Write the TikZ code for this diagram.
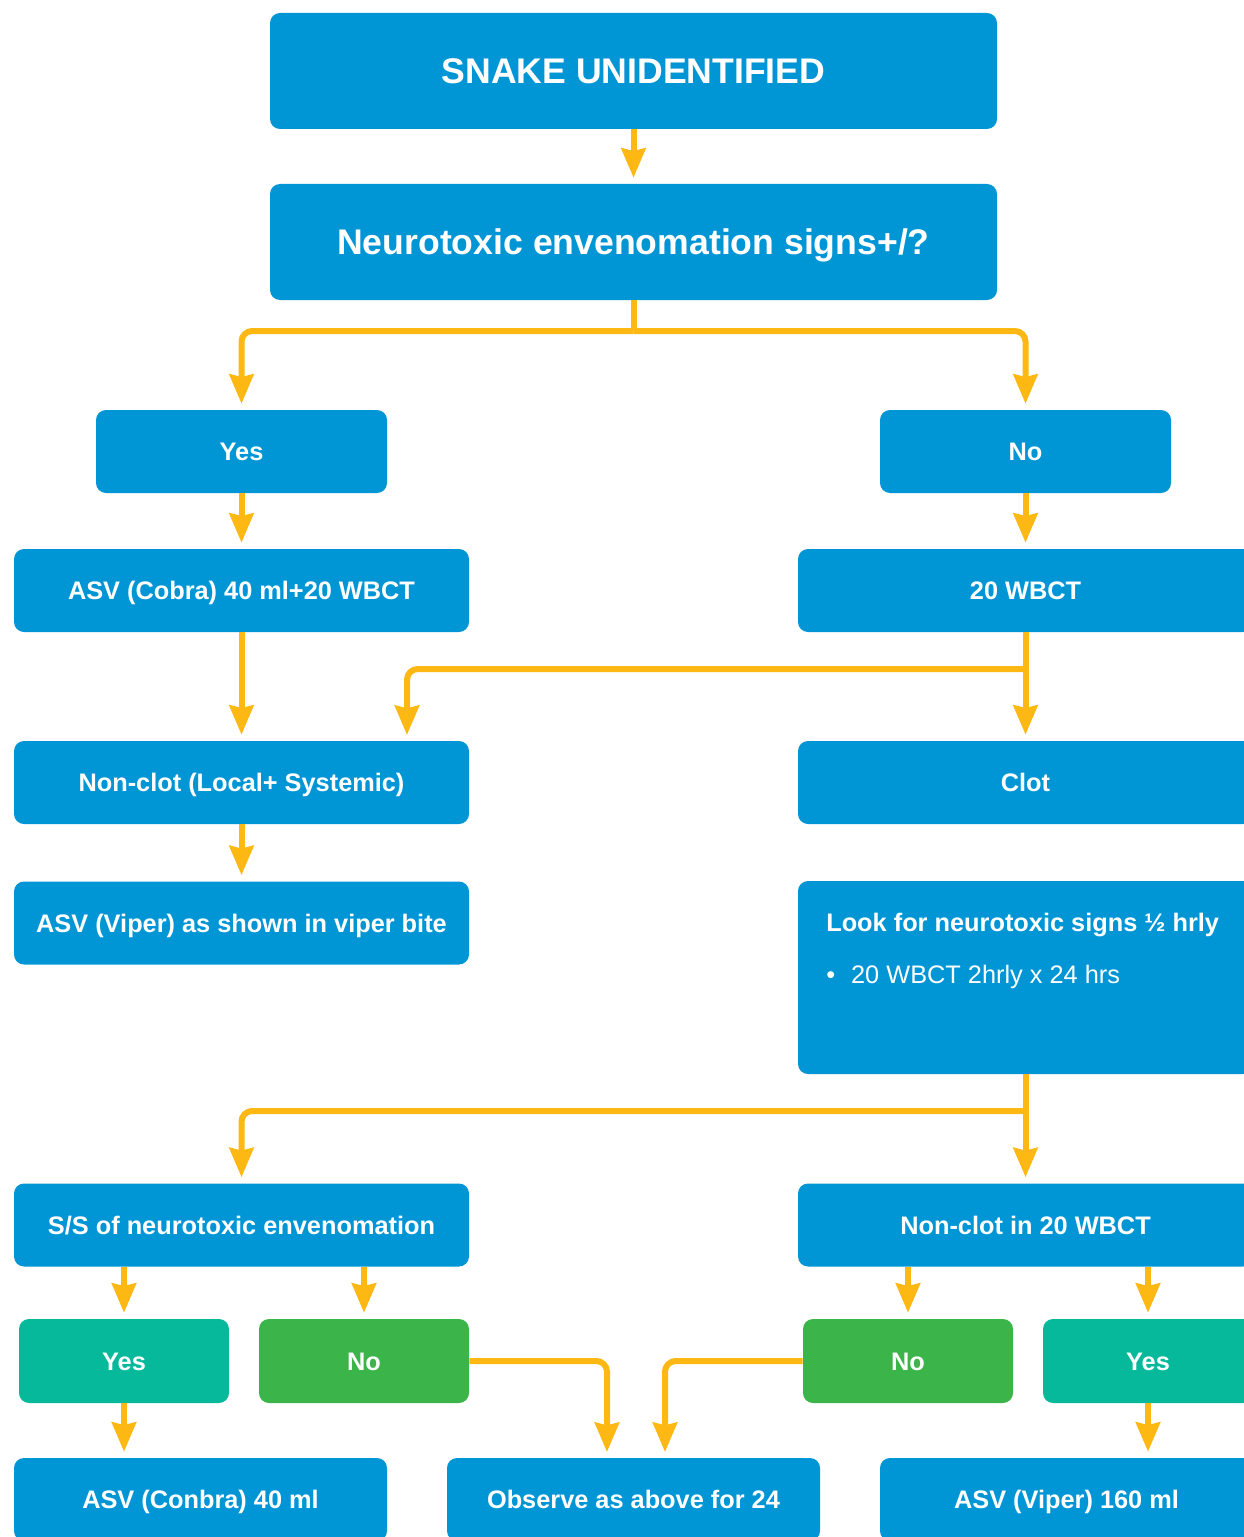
\documentclass[tikz,border=0pt]{standalone}
\usepackage{fontspec}
\setmainfont{Liberation Sans}
\usetikzlibrary{arrows.meta}

\definecolor{boxblue}{HTML}{0096D6}
\definecolor{flowyellow}{HTML}{FDB813}
\definecolor{yesteal}{HTML}{06B99B}
\definecolor{nogreen}{HTML}{3BB54A}

\tikzset{
  box/.style={fill=boxblue, text=white, rounded corners=7.5pt, inner sep=0pt,
    minimum width=341.25pt, minimum height=62.25pt,
    text height=13.6pt, text depth=0pt,
    font=\fontsize{19}{23}\selectfont\bfseries},
  titlebox/.style={box, minimum width=545.25pt, minimum height=87pt,
    text height=19.1pt, text depth=0pt,
    font=\fontsize{26.7}{32}\selectfont\bfseries},
  narrowbox/.style={box, minimum width=218.25pt},
  finalbox/.style={box, minimum width=279.75pt},
  yesbox/.style={box, fill=yesteal, minimum width=157.5pt, minimum height=63pt},
  nobox/.style={box, fill=nogreen, minimum width=157.5pt, minimum height=63pt},
  flow/.style={draw=flowyellow, line width=4.5pt, rounded corners=8pt},
  flowarrow/.style={flow, -{Stealth[length=22pt,width=18pt,inset=2pt]}, shorten >=4.5pt},
  plaintext/.style={text=white, inner sep=0pt, text height=13.6pt, text depth=0pt,
    font=\fontsize{19}{23}\selectfont},
}

\begin{document}
\begin{tikzpicture}[x=0.75pt, y=-0.75pt]
\useasboundingbox (0,0) rectangle (1244,1537);
\clip (0,0) rectangle (1244,1537);

% boxes
\node[titlebox] (top)   at (633.5,71)  {SNAKE UNIDENTIFIED};
\node[titlebox] (neuro) at (633.5,242) {Neurotoxic envenomation signs+/?};

\node[narrowbox] (yes) at (241.5,451.5)  {Yes};
\node[narrowbox] (no)  at (1025.5,451.5) {No};

\node[box] (cobra) at (241.5,590.5)  {ASV (Cobra) 40 ml+20 WBCT};
\node[box] (wbct)  at (1025.5,590.5) {20 WBCT};

\node[box] (nonclot) at (241.5,782.5)  {Non-clot (Local+ Systemic)};
\node[box] (clot)    at (1025.5,782.5) {Clot};

\node[box] (viper) at (241.5,923) {ASV (Viper) as shown in viper bite};
\node[box, minimum height=144.75pt, text height=0pt] (look) at (1025.5,977.5) {};
\node[plaintext, font=\fontsize{19}{23}\selectfont\bfseries, anchor=west] (look1) at (826,922)
  {Look for neurotoxic signs ½ hrly};
\node[plaintext, anchor=west] (look2) at (826,974)
  {•\hspace{12pt}20 WBCT 2hrly x 24 hrs};

\node[box] (ss)   at (241.5,1225)  {S/S of neurotoxic envenomation};
\node[box] (nc20) at (1025.5,1225) {Non-clot in 20 WBCT};

\node[yesbox] (yes1) at (124,1361)  {Yes};
\node[nobox]  (no1)  at (364,1361)  {No};
\node[nobox]  (no2)  at (908,1361)  {No};
\node[yesbox] (yes2) at (1148,1361) {Yes};

\node[finalbox] (asvc) at (200.5,1499.5)  {ASV (Conbra) 40 ml};
\node[finalbox] (obs)  at (633.5,1499.5)  {Observe as above for 24};
\node[finalbox] (asvv) at (1066.5,1499.5) {ASV (Viper) 160 ml};

% junction points and side entries
\coordinate (split1) at (633.5,331);
\coordinate (split2) at (1025.5,669);
\coordinate (split3) at (1025.5,1111);
\coordinate (ncin)   at (407,741);
\coordinate (obsl)   at (607,1458);
\coordinate (obsr)   at (665,1458);

% connectors
\draw[flowarrow] (top) -- (neuro);
\draw[flow] (neuro.south) -- (split1);
\draw[flowarrow] (split1) -| (yes.north);
\draw[flowarrow] (split1) -| (no.north);

\draw[flowarrow] (yes) -- (cobra);
\draw[flowarrow] (no) -- (wbct);

\draw[flowarrow] (cobra) -- (nonclot);
\draw[flowarrow] (wbct) -- (clot);
\draw[flowarrow] (split2) -| (ncin);

\draw[flowarrow] (nonclot) -- (viper);

\draw[flowarrow] (look.south) -- (nc20.north);
\draw[flowarrow] (split3) -| (ss.north);

\draw[flowarrow] (ss.south -| yes1.north) -- (yes1.north);
\draw[flowarrow] (ss.south -| no1.north) -- (no1.north);
\draw[flowarrow] (nc20.south -| no2.north) -- (no2.north);
\draw[flowarrow] (nc20.south -| yes2.north) -- (yes2.north);

\draw[flowarrow] (yes1.south) -- (yes1.south |- asvc.north);
\draw[flowarrow] (yes2.south) -- (yes2.south |- asvv.north);

\draw[flowarrow] (no1.east) -| (obsl);
\draw[flowarrow] (no2.west) -| (obsr);
\end{tikzpicture}
\end{document}
